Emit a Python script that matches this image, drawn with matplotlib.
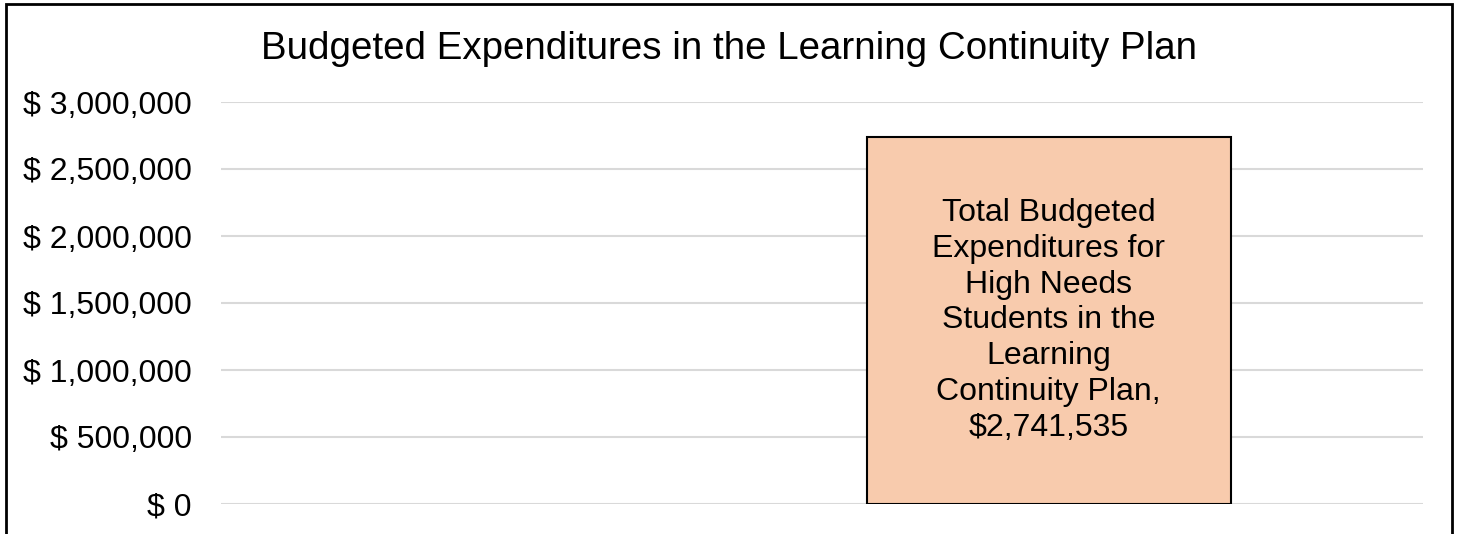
import textwrap
import matplotlib.pyplot as plt
from matplotlib.patches import Rectangle
from matplotlib.ticker import FuncFormatter

plt.rcParams['font.family'] = ['Liberation Sans', 'DejaVu Sans']

# data
categories = ["Total Budgeted Expenditures for High Needs Students in the Learning Continuity Plan"]
values = [2741535]
yticks = [0, 500000, 1000000, 1500000, 2000000, 2500000, 3000000]

fig = plt.figure(figsize=(14.58, 5.34), dpi=100)
ax = fig.add_axes([221 / 1458, 30 / 534, 1202 / 1458, 402 / 534])

x = [0]
bars = ax.bar(x, values, width=0.303, color='#F8CBAD', edgecolor='black', linewidth=1.5, zorder=3)

for xi, cat, v in zip(x, categories, values):
    label = textwrap.fill(cat + ",", width=16) + "\n" + f"${v:,.0f}"
    ax.text(xi, v / 2, label, ha='center', va='center', fontsize=23,
            linespacing=1.25, zorder=4)

ax.set_xlim(-0.6886, 0.3114)
ax.set_ylim(0, 3000000)
ax.set_yticks(yticks)
ax.yaxis.set_major_formatter(FuncFormatter(lambda v, p: f"$ {v:,.0f}"))
ax.tick_params(axis='y', length=0, pad=21, labelsize=23)
ax.set_xticks([])
ax.grid(axis='y', color='#D9D9D9', linewidth=1.5, zorder=0)
for s in ax.spines.values():
    s.set_visible(False)

fig.text(0.5, 1 - 49 / 534, "Budgeted Expenditures in the Learning Continuity Plan",
         ha='center', va='center', fontsize=27.7)

# chart border (bottom edge is cropped off)
fig.patches.append(Rectangle((6 / 1458, -0.1), (1452 - 6) / 1458, 1.1 - 4 / 534,
                             transform=fig.transFigure, fill=False,
                             edgecolor='black', linewidth=2, clip_on=False))

fig.savefig("out.png", dpi=100)
